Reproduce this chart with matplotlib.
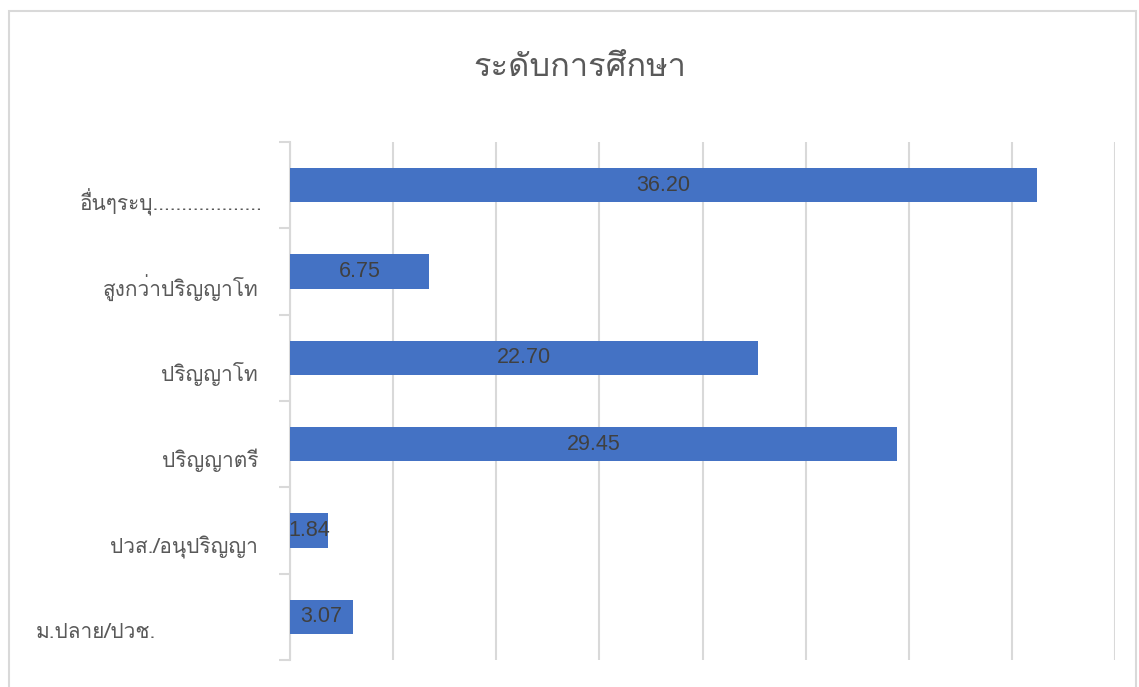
import matplotlib
matplotlib.use("Agg")
import matplotlib.pyplot as plt
import matplotlib.transforms as mtransforms
from matplotlib import font_manager
from matplotlib.ft2font import FT2Font
from matplotlib.patches import Rectangle

categories = ["ม.ปลาย/ปวช.", "ปวส./อนุปริญญา", "ปริญญาตรี", "ปริญญาโท",
              "สูงกว่าปริญญาโท", "อื่นๆระบุ..................."]
values = [3.07, 1.84, 29.45, 22.70, 6.75, 36.20]
title = "ระดับการศึกษา"

# extra horizontal shift of each category label (pixels), as in the reference
label_shift_px = [-102, 0, 0, 0, 0, 4]

# find a font with Thai glyphs
found = []
for path in sorted(font_manager.findSystemFonts()):
    try:
        f = FT2Font(path)
        cm = f.get_charmap()
        if 0x0E01 in cm and 0x0E32 in cm:
            found.append((f.family_name, path))
    except Exception:
        pass
fam = ["DejaVu Sans"]
if found:
    for name, path in found:
        try:
            font_manager.fontManager.addfont(path)
        except Exception:
            pass
    names = [n for n, p in found]
    first = "Loma" if "Loma" in names else names[0]
    fam = [first, "DejaVu Sans"]
plt.rcParams['font.family'] = fam

W, H = 1139, 687
fig = plt.figure(figsize=(W / 100, H / 100), dpi=100)
fig.patches.append(Rectangle((9 / W, -0.01), (1136 - 9) / W, 1 - 11 / H + 0.01,
                             transform=fig.transFigure, fill=False,
                             edgecolor="#D9D9D9", linewidth=1.5))
ax = fig.add_axes([290 / W, 1 - 660 / H, (1115 - 290) / W, (660 - 142) / H])
y = list(range(len(categories)))
ax.barh(y, values, height=0.4, color="#4472C4", zorder=3)
for yi, v in zip(y, values):
    ax.text(v / 2, yi, f"{v:.2f}", ha="center", va="center",
            fontsize=15.5, color="#404040", family="Liberation Sans", zorder=4)
ax.set_xlim(0, 40)
ax.set_ylim(-0.5, len(categories) - 0.5)
ax.set_xticks(range(0, 41, 5))
ax.tick_params(axis="x", length=0, labelbottom=False)
ax.grid(axis="x", color="#D9D9D9", linewidth=1.5, zorder=0)
ax.set_yticks(y)
ax.set_yticklabels(categories, fontsize=15, color="#595959")
ax.set_yticks([i - 0.5 for i in range(len(categories) + 1)], minor=True)
ax.tick_params(axis="y", which="major", length=0, pad=23)
ax.tick_params(axis="y", which="minor", length=8, width=1.5, color="#D9D9D9")
for lab, dx in zip(ax.get_yticklabels(), label_shift_px):
    off = mtransforms.ScaledTranslation(dx / 100, -14 / 100, fig.dpi_scale_trans)
    lab.set_transform(lab.get_transform() + off)
for s in ["top", "right", "bottom"]:
    ax.spines[s].set_visible(False)
ax.spines["left"].set_color("#D9D9D9")
ax.spines["left"].set_linewidth(1.5)
fig.text(580 / W, 1 - 68 / H, title, ha="center", va="center", fontsize=23.5,
         color="#595959")
fig.savefig("out.png", dpi=100)
